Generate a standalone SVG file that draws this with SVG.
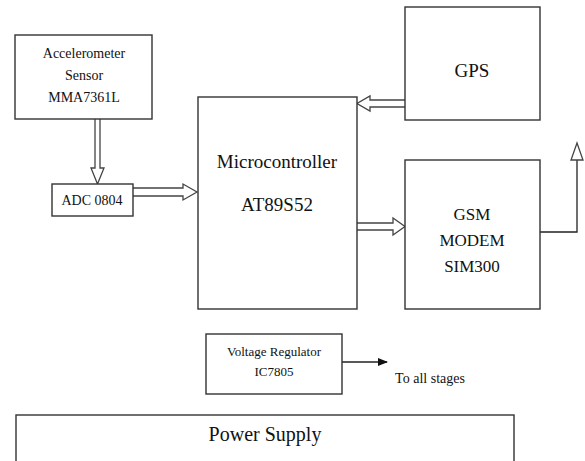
<svg xmlns="http://www.w3.org/2000/svg" width="585" height="461" viewBox="0 0 585 461">
<style>
.box{fill:#fff;stroke:#333;stroke-width:1.4}
.arr{fill:#fff;stroke:#444;stroke-width:1.3;stroke-linejoin:miter}
.ln{fill:none;stroke:#222;stroke-width:1.3}
text{font-family:'Liberation Serif','Times New Roman','DejaVu Serif',serif;fill:#111;text-anchor:middle}
</style>
<defs>
<marker id="ah" markerWidth="10" markerHeight="8" refX="9" refY="4" orient="auto" markerUnits="userSpaceOnUse">
<path d="M0,0 L10,4 L0,8 Z" fill="#111"/>
</marker>
</defs>
<g id="connectors">
<path class="arr" d="M95,119 V168 H91 L97.5,184 L104,168 H100 V119"/>
<path class="arr" d="M133,188 H183 V184 L197,192 L183,200 V196 H133"/>
<path class="arr" d="M405,100 H370 V96 L357,103.5 L370,111 V107 H405"/>
<path class="arr" d="M357,223 H393 V218 L405,226.5 L393,235 V230 H357"/>
<path class="ln" d="M540,232 H577 V160"/>
<path class="arr" d="M571,160 H583 L577,143 Z"/>
<line class="ln" x1="342" y1="362" x2="387" y2="362" marker-end="url(#ah)"/>
</g>
<g id="accelerometer">
<rect class="box" x="15" y="35" width="137" height="84"/>
<text x="84" y="58" font-size="14">Accelerometer</text>
<text x="84" y="80" font-size="14">Sensor</text>
<text x="84" y="102" font-size="14">MMA7361L</text>
</g>
<g id="adc">
<rect class="box" x="52" y="184" width="81" height="32"/>
<text x="92" y="205" font-size="14">ADC 0804</text>
</g>
<g id="microcontroller">
<rect class="box" x="198" y="97" width="159" height="212"/>
<text x="277" y="168" font-size="19">Microcontroller</text>
<text x="277" y="211" font-size="19">AT89S52</text>
</g>
<g id="gps">
<rect class="box" x="405" y="7" width="135" height="113"/>
<text x="472" y="77" font-size="19">GPS</text>
</g>
<g id="gsm">
<rect class="box" x="405" y="160" width="135" height="149"/>
<text x="472" y="220" font-size="17">GSM</text>
<text x="472" y="246" font-size="17">MODEM</text>
<text x="472" y="272" font-size="17">SIM300</text>
</g>
<g id="regulator">
<rect class="box" x="206" y="334" width="136" height="60"/>
<text x="274" y="356" font-size="13">Voltage Regulator</text>
<text x="274" y="376" font-size="13">IC7805</text>
</g>
<g id="stages">
<text x="430" y="383" font-size="14">To all stages</text>
</g>
<g id="power">
<rect class="box" x="16" y="415" width="498" height="60"/>
<text x="265" y="441" font-size="20">Power Supply</text>
</g>
</svg>
